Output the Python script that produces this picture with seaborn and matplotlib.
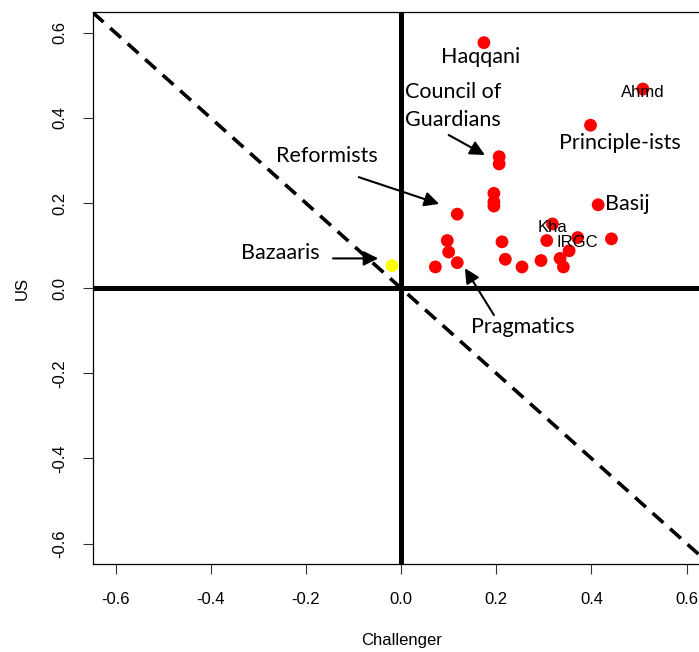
"""Iranian factions: Challenger vs US position scatter."""
import matplotlib

matplotlib.use("Agg")
import matplotlib.pyplot as plt
import pandas as pd
import seaborn as sns

# faction positions
challenger = [0.174, 0.508, 0.398, 0.206, 0.206, 0.195, 0.195, 0.195, 0.118,
              0.414, 0.318, 0.097, 0.100, 0.118, 0.072, 0.212, 0.219, 0.254,
              0.294, 0.306, 0.334, 0.341, 0.353, 0.371, 0.442, -0.019]
us = [0.577, 0.468, 0.383, 0.309, 0.292, 0.223, 0.203, 0.193, 0.174,
      0.196, 0.151, 0.112, 0.085, 0.060, 0.050, 0.109, 0.068, 0.050,
      0.065, 0.112, 0.070, 0.050, 0.088, 0.119, 0.116, 0.053]
group = ["actor"] * 25 + ["bazaar"]

ticks = [-0.6, -0.4, -0.2, 0.0, 0.2, 0.4, 0.6]
tick_labels = ["-0.6", "-0.4", "-0.2", "0.0", "0.2", "0.4", "0.6"]

# big labels (text, x, y, ha)
big_labels = [
    ("Haqqani", 0.168, 0.543, "center"),
    ("Council of\nGuardians", 0.008, 0.427, "left"),
    ("Principle-ists", 0.460, 0.341, "center"),
    ("Reformists", -0.156, 0.310, "center"),
    ("Basij", 0.428, 0.198, "left"),
    ("Bazaaris", -0.253, 0.083, "center"),
    ("Pragmatics", 0.255, -0.091, "center"),
]
small_labels = [
    ("Ahmd", 0.507, 0.459),
    ("Kha", 0.319, 0.142),
    ("IRGC", 0.371, 0.107),
]
# arrows (tail x, tail y, tip x, tip y)
arrows = [
    (0.100, 0.360, 0.176, 0.313),
    (-0.089, 0.261, 0.080, 0.198),
    (-0.143, 0.070, -0.048, 0.070),
    (0.195, -0.063, 0.134, 0.047),
]

if __name__ == "__main__":
    sns.set_style("ticks")
    plt.rcParams["font.family"] = ["Liberation Sans", "DejaVu Sans"]
    plt.rcParams["text.color"] = "black"
    plt.rcParams["axes.labelcolor"] = "black"
    plt.rcParams["xtick.labelcolor"] = "black"
    plt.rcParams["ytick.labelcolor"] = "black"

    df = pd.DataFrame({"Challenger": challenger, "US": us, "group": group})

    fig = plt.figure(figsize=(6.99, 6.52), dpi=100)
    ax = fig.add_axes([92.7 / 699, 88 / 652, (709.5 - 92.7) / 699, 552 / 652])

    ax.axhline(0, color="black", lw=3.6, zorder=1)
    ax.axvline(0, color="black", lw=3.6, zorder=1)
    ax.axline((0, 0), slope=-1, color="black", lw=2.6, dashes=(4, 2.5), zorder=1)

    sns.scatterplot(
        data=df,
        x="Challenger",
        y="US",
        hue="group",
        palette={"actor": "#ff0000", "bazaar": "#ffff00"},
        s=85,
        linewidth=0,
        legend=False,
        ax=ax,
        zorder=3,
    )

    for text, x, y, ha in big_labels:
        ax.text(x, y, text, ha=ha, va="center", fontsize=15.5, color="black",
                family=["Lato", "DejaVu Sans"], linespacing=1.5, zorder=4)
    for text, x, y in small_labels:
        ax.text(x, y, text, ha="center", va="center", fontsize=12,
                color="black", zorder=4)
    for x0, y0, x1, y1 in arrows:
        ax.annotate(
            "",
            xy=(x1, y1),
            xytext=(x0, y0),
            arrowprops=dict(arrowstyle="-|>", color="black", lw=1.5,
                            mutation_scale=22, shrinkA=0, shrinkB=0),
            zorder=4,
        )

    ax.set_xlim(-0.648, 0.648)
    ax.set_ylim(-0.648, 0.649)
    ax.set_xticks(ticks)
    ax.set_xticklabels(tick_labels)
    ax.set_yticks(ticks)
    ax.set_yticklabels(tick_labels, rotation=90, va="center")
    ax.tick_params(axis="both", length=7.2, width=0.8, color="#333333",
                   labelsize=12, direction="out", labelcolor="black")
    ax.tick_params(axis="x", pad=13)
    ax.tick_params(axis="y", pad=11)
    ax.set_xlabel("Challenger", fontsize=12, labelpad=19, color="black")
    ax.set_ylabel("US", fontsize=12, labelpad=16, color="black")
    for side in ["left", "bottom", "top", "right"]:
        ax.spines[side].set_linewidth(0.9)
        ax.spines[side].set_color("black")

    plt.savefig("out.png", dpi=100)
